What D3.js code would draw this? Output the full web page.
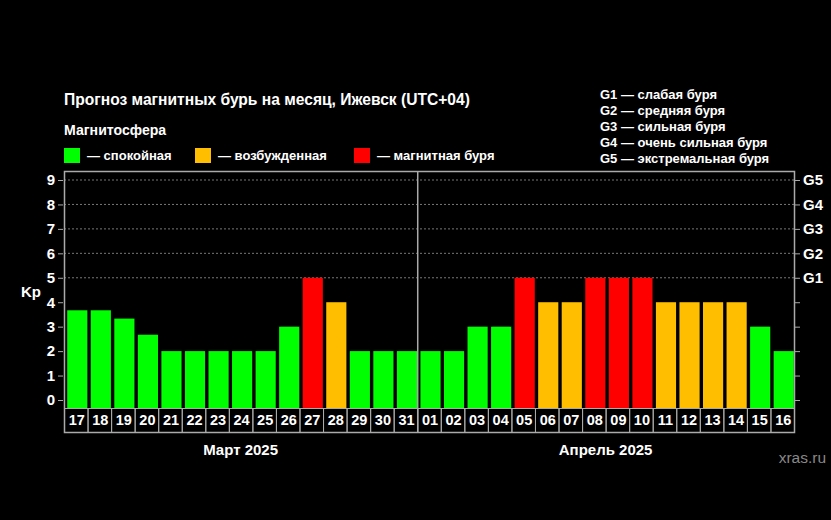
<!DOCTYPE html>
<html><head><meta charset="utf-8">
<script src="https://cdn.jsdelivr.net/npm/d3@7"></script>
<style>
html,body{margin:0;padding:0;background:#000;}
svg{display:block;font-family:"Liberation Sans",Arial,sans-serif;}
</style></head>
<body>
<svg id="c" width="831" height="520"></svg>
<script>
const days = ["17","18","19","20","21","22","23","24","25","26","27","28","29","30","31",
              "01","02","03","04","05","06","07","08","09","10","11","12","13","14","15","16"];
const kp = [3.67,3.67,3.33,2.67,2,2,2,2,2,3,5,4,2,2,2,
            2,2,3,3,5,4,4,5,5,5,4,4,4,4,3,2];
const months = ["Март 2025","Апрель 2025"];
const monthCounts = [15,16];
const yTicks = [0,1,2,3,4,5,6,7,8,9];
const gLabels = ["G1","G2","G3","G4","G5"];
const gLegend = ["G1 — слабая буря","G2 — средняя буря","G3 — сильная буря","G4 — очень сильная буря","G5 — экстремальная буря"];
const stateLegend = ["— спокойная","— возбужденная","— магнитная буря"];
const colors = ["#00ff00","#ffbf00","#ff0000"];

function level(v){ return v>=5?2:(v>=4?1:0); }

const svg = d3.select("#c");
const L=64, R=794, T=171, B=408, LB=432;
const x = d3.scaleBand().domain(d3.range(days.length)).range([L,R]).paddingInner(0).paddingOuter(0);
const y = d3.scaleLinear().domain([0,9]).range([400,180]);

// title
svg.append("text").attr("x",64).attr("y",105).attr("fill","#fff")
  .attr("font-size",15.6).attr("font-weight","bold")
  .text("Прогноз магнитных бурь на месяц, Ижевск (UTC+04)");
svg.append("text").attr("x",64).attr("y",135).attr("fill","#fff")
  .attr("font-size",14.1).attr("font-weight","bold").text("Магнитосфера");
const legX=[64,195,354];
stateLegend.forEach((t,i)=>{
  svg.append("rect").attr("x",legX[i]).attr("y",148).attr("width",16).attr("height",15).attr("fill",colors[i]);
  svg.append("text").attr("x",legX[i]+23).attr("y",159.5).attr("fill","#fff")
    .attr("font-size",13).attr("font-weight","bold").text(t);
});
gLegend.forEach((t,i)=>{
  svg.append("text").attr("x",600).attr("y",99+i*15.9).attr("fill","#fff")
    .attr("font-size",13).attr("font-weight","bold").text(t);
});

// grid lines at G levels
svg.append("g").selectAll("line").data(yTicks.filter(d=>d>=5)).join("line")
  .attr("x1",L).attr("x2",R).attr("y1",d=>y(d)).attr("y2",d=>y(d))
  .attr("stroke","#777").attr("stroke-width",1).attr("stroke-dasharray","2,2");

// bars
const bw = x.bandwidth();
svg.append("g").selectAll("rect").data(kp).join("rect")
  .attr("x",(d,i)=>x(i)+3.2).attr("width",bw-3.4)
  .attr("y",d=>y(d)).attr("height",d=>B-y(d))
  .attr("fill",d=>colors[level(d)]);

// label row
const lab = svg.append("g");
lab.selectAll("rect").data(days).join("rect")
  .attr("x",(d,i)=>x(i)+0.5).attr("y",B+0.5).attr("width",bw).attr("height",LB-B)
  .attr("fill","none").attr("stroke","#aaa").attr("stroke-width",1);
lab.selectAll("text").data(days).join("text")
  .attr("x",(d,i)=>x(i)+bw/2+1).attr("y",424.5).attr("text-anchor","middle")
  .attr("fill","#fff").attr("font-size",14.5).attr("font-weight","bold").text(d=>d);

// frame
svg.append("rect").attr("x",L+0.5).attr("y",T+0.5).attr("width",R-L).attr("height",LB-T)
  .attr("fill","none").attr("stroke","#aaa").attr("stroke-width",1.5);
// month divider
svg.append("line").attr("x1",x(monthCounts[0])+0.5).attr("x2",x(monthCounts[0])+0.5)
  .attr("y1",T).attr("y2",LB).attr("stroke","#aaa").attr("stroke-width",1.5);

// left axis
const la = svg.append("g").attr("transform",`translate(${L-1},0)`)
  .call(d3.axisLeft(y).tickValues(yTicks).tickSize(5).tickPadding(3).tickFormat(d3.format("d")));
la.select(".domain").remove();
la.selectAll("line").attr("stroke","#aaa");
la.selectAll("text").attr("fill","#fff").attr("font-size",15).attr("font-weight","bold")
  .attr("font-family","Liberation Sans, Arial, sans-serif");

// right axis
const ra = svg.append("g").attr("transform",`translate(${R+1},0)`)
  .call(d3.axisRight(y).tickValues(yTicks).tickSize(5).tickPadding(3)
    .tickFormat(d=>d>=5?gLabels[d-5]:""));
ra.select(".domain").remove();
ra.selectAll("line").attr("stroke","#aaa");
ra.selectAll("text").attr("fill","#fff").attr("font-size",15).attr("font-weight","bold")
  .attr("font-family","Liberation Sans, Arial, sans-serif");

// Kp
svg.append("text").attr("x",31).attr("y",297).attr("text-anchor","middle").attr("fill","#fff")
  .attr("font-size",15).attr("font-weight","bold").text("Kp");

// month labels
let start=0;
months.forEach((m,i)=>{
  const x0=x(start), x1=(start+monthCounts[i]<days.length)?x(start+monthCounts[i]):R;
  svg.append("text").attr("x",(x0+x1)/2).attr("y",455).attr("text-anchor","middle")
    .attr("fill","#fff").attr("font-size",15).attr("font-weight","bold").text(m);
  start+=monthCounts[i];
});

svg.append("text").attr("x",826).attr("y",463).attr("text-anchor","end").attr("fill","#888")
  .attr("font-size",15.5).text("xras.ru");
</script>
</body></html>
